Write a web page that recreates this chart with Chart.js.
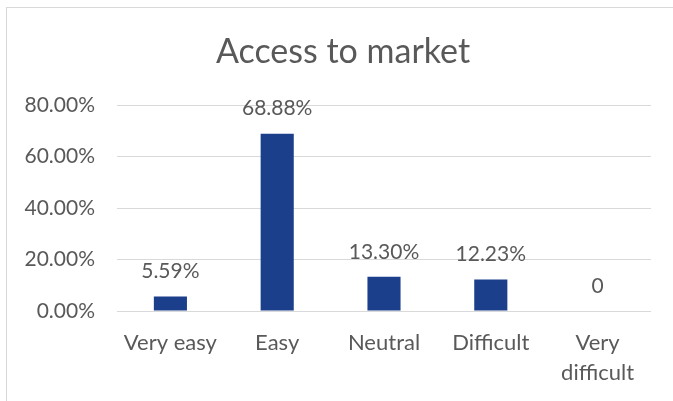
<!DOCTYPE html>
<html>
<head>
<meta charset="utf-8">
<script src="https://cdn.jsdelivr.net/npm/chart.js@4.4.1/dist/chart.umd.min.js"></script>
<style>
  html, body { margin: 0; padding: 0; background: #fff; }
  #wrap { position: relative; width: 673px; height: 401px; overflow: hidden; }
  #frame { position: absolute; left: 6px; top: 7px; width: 700px; height: 430px;
           border: 1px solid #d9d9d9; box-sizing: border-box; }
  canvas { position: absolute; left: 0; top: 0; }
</style>
</head>
<body>
<div id="wrap">
  <div id="frame"></div>
  <canvas id="barChart" width="673" height="401"></canvas>
</div>
<script>
var chartTitle = "Access to market";
var categories = ["Very easy", "Easy", "Neutral", "Difficult", ["Very", "difficult"]];
var shares = [0.0559, 0.6888, 0.1330, 0.1223, 0];
var valueLabels = ["5.59%", "68.88%", "13.30%", "12.23%", "0"];
var yTicks = [0, 0.2, 0.4, 0.6, 0.8];

var textGray = "#595959";
var fontName = "Lato, 'Open Sans', sans-serif";

// title over the whole frame, plus value labels above each bar
var barLabels = {
  id: "barLabels",
  afterDraw: function(chart) {
    var ctx = chart.ctx;
    ctx.save();
    ctx.fillStyle = textGray;
    ctx.textAlign = "center";
    ctx.textBaseline = "middle";
    ctx.font = "34px " + fontName;
    ctx.fillText(chartTitle, 343, 52);
    ctx.font = "21px " + fontName;
    chart.getDatasetMeta(0).data.forEach(function(bar, i) {
      ctx.fillText(valueLabels[i], bar.x, bar.y - 25);
    });
    ctx.restore();
  }
};

var ctx = document.getElementById("barChart").getContext("2d");
var myBarChart = new Chart(ctx, {
  type: "bar",
  data: {
    labels: categories,
    datasets: [{
      data: shares,
      backgroundColor: "#1b3f8b",
      barPercentage: 0.62,
      categoryPercentage: 0.5
    }]
  },
  options: {
    responsive: false,
    animation: false,
    layout: { padding: { left: 0, right: 22, top: 105, bottom: 0 } },
    plugins: {
      legend: { display: false },
      tooltip: { enabled: false },
      title: { display: false }
    },
    scales: {
      x: {
        grid: { display: false },
        border: { display: false },
        ticks: {
          color: textGray,
          font: { family: fontName, size: 22, lineHeight: 1.36 },
          padding: 9,
          maxRotation: 0
        },
        afterFit: function(scale) { scale.height = 90; }
      },
      y: {
        min: 0,
        max: 0.8,
        afterBuildTicks: function(scale) {
          scale.ticks = yTicks.map(function(v) { return { value: v }; });
        },
        grid: { color: "#d9d9d9", lineWidth: 1, drawTicks: false },
        border: { display: false },
        ticks: {
          color: textGray,
          font: { family: fontName, size: 21 },
          padding: 22,
          callback: function(v) { return (v * 100).toFixed(2) + "%"; }
        },
        afterFit: function(scale) { scale.width = 117; }
      }
    }
  },
  plugins: [barLabels]
});
</script>
</body>
</html>
